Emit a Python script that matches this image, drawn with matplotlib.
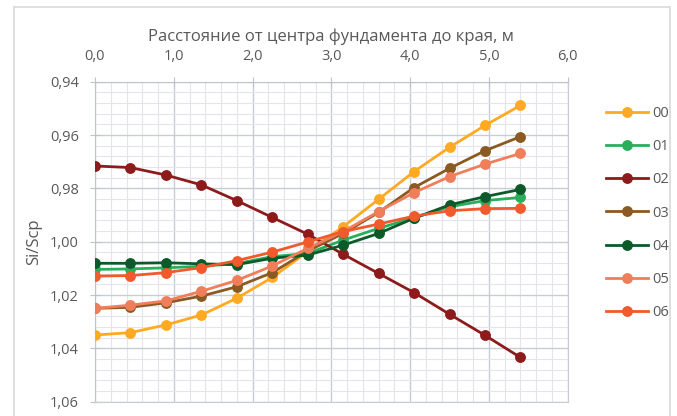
import numpy as np
import matplotlib
import matplotlib.pyplot as plt
from matplotlib.ticker import MultipleLocator, FuncFormatter
from matplotlib.patches import Rectangle

matplotlib.rcParams['font.family'] = ['Open Sans', 'DejaVu Sans']
matplotlib.rcParams['font.size'] = 10

# Distance from foundation centre, m
x = [0, 0.45, 0.9, 1.35, 1.8, 2.25, 2.7, 3.15, 3.6, 4.05, 4.5, 4.95, 5.4]

# Si/Scp for each case
s00 = [1.035, 1.0341, 1.0312, 1.0275, 1.0212, 1.0134, 1.0037, 0.9944, 0.9841, 0.9737, 0.9646, 0.9564, 0.9489]
s01 = [1.0104, 1.0102, 1.0098, 1.0092, 1.0082, 1.0056, 1.0044, 0.9994, 0.9950, 0.9910, 0.9869, 0.9846, 0.9834]
s02 = [0.9716, 0.9722, 0.9750, 0.9787, 0.9846, 0.9909, 0.9972, 1.0047, 1.0119, 1.0191, 1.0272, 1.0351, 1.0434]
s03 = [1.0250, 1.0246, 1.0229, 1.0204, 1.0169, 1.0116, 1.0035, 0.9969, 0.9890, 0.9797, 0.9725, 0.9659, 0.9606]
s04 = [1.0081, 1.0081, 1.0079, 1.0083, 1.0086, 1.0062, 1.0050, 1.0013, 0.9969, 0.9912, 0.9862, 0.9831, 0.9804]
s05 = [1.0250, 1.0238, 1.0222, 1.0186, 1.0145, 1.0091, 1.0025, 0.9962, 0.9887, 0.9816, 0.9756, 0.9709, 0.9669]
s06 = [1.0129, 1.0127, 1.0116, 1.0097, 1.0071, 1.0039, 1.0001, 0.9962, 0.9934, 0.9904, 0.9884, 0.9876, 0.9875]

names = ['00', '01', '02', '03', '04', '05', '06']
series = [s00, s01, s02, s03, s04, s05, s06]
colors = ['#FFAA22', '#2BAE5C', '#8E1B1B', '#8A5A22', '#0C5A2A', '#F07E5A', '#F05A2C']

txt = '#595959'
major_c = '#c9ccd4'
minor_c = '#e3e5ea'

fig = plt.figure(figsize=(6.77, 4.16), dpi=100)
fig.patches.append(Rectangle((14/677, -0.1), (670-14)/677, 1 - 7/416 + 0.1,
                             transform=fig.transFigure, fill=False,
                             edgecolor='#d9d9d9', linewidth=1.2))
ax = fig.add_axes([95/677, 1 - 401.7/416, (567.7-95)/677, (401.7-81.7)/416])

for name, ys, c in zip(names, series, colors):
    ax.plot(x, ys, color=c, lw=2.0, marker='o', markersize=6.8, label=name, zorder=3)

ax.set_xlim(0, 6)
ax.set_ylim(1.06, 0.94)
ax.xaxis.set_major_locator(MultipleLocator(1))
ax.xaxis.set_minor_locator(MultipleLocator(0.2))
ax.yaxis.set_major_locator(MultipleLocator(0.02))
ax.yaxis.set_minor_locator(MultipleLocator(0.004))
ax.xaxis.set_major_formatter(FuncFormatter(lambda v, p: f'{v:.1f}'.replace('.', ',')))
ax.yaxis.set_major_formatter(FuncFormatter(lambda v, p: f'{v:.2f}'.replace('.', ',')))
ax.xaxis.tick_top()
ax.xaxis.set_label_position('top')

ax.grid(which='major', color=major_c, lw=1.0, zorder=0)
ax.grid(which='minor', color=minor_c, lw=0.8, zorder=0)
ax.set_axisbelow(True)
for s in ax.spines.values():
    s.set_color(major_c)
ax.spines['top'].set_color('#bfc3cc')
ax.spines['left'].set_color('#bfc3cc')

ax.tick_params(which='major', direction='inout', length=7, color='#bfc3cc',
               labelcolor=txt, labelsize=10.5)
ax.tick_params(axis='x', which='major', pad=9)
ax.tick_params(axis='y', which='major', pad=8)
ax.tick_params(which='minor', length=0)

ax.set_xlabel('Расстояние от центра фундамента до края, м', color=txt, fontsize=12, labelpad=6)
ax.set_ylabel('Si/Scp', color=txt, fontsize=12, labelpad=6)

leg = fig.legend(loc='upper left', bbox_to_anchor=(600/677, 1 - 100/416), frameon=False,
                 handlelength=2.9, labelspacing=1.25, handletextpad=0.3,
                 fontsize=10.5, borderaxespad=0)
for t in leg.get_texts():
    t.set_color(txt)

fig.savefig('out.png', dpi=100)
